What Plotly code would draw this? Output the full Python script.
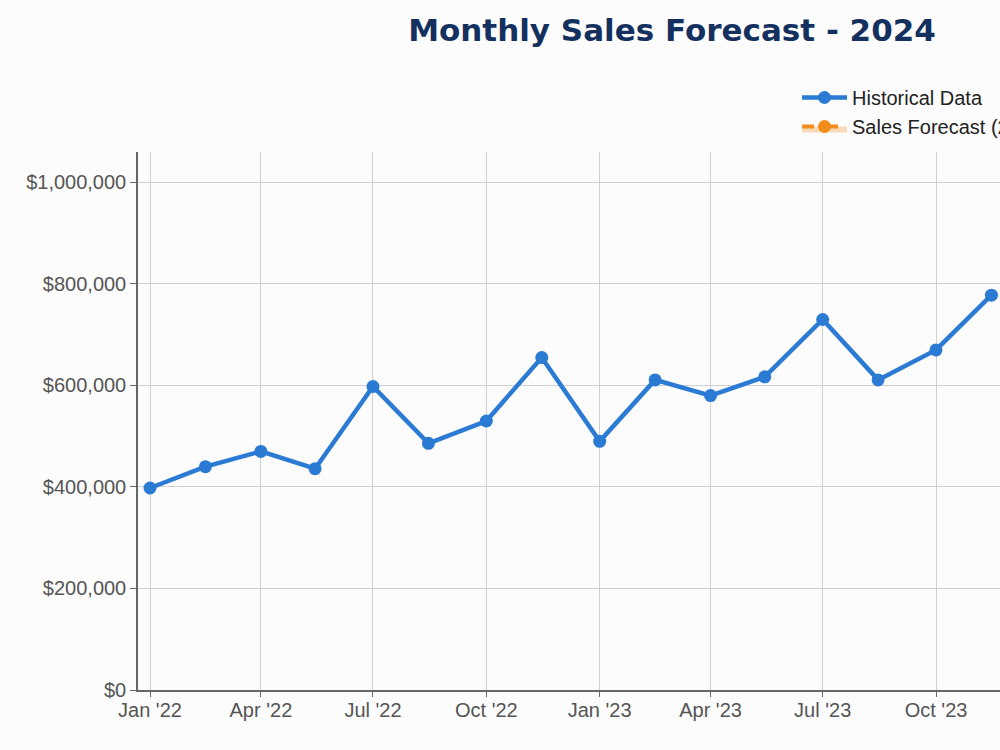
import plotly.graph_objects as go
import pandas as pd

hist_dates = ["2022-01-01", "2022-02-15", "2022-04-01", "2022-05-15", "2022-07-01", "2022-08-15",
              "2022-10-01", "2022-11-15", "2023-01-01", "2023-02-15", "2023-04-01", "2023-05-15",
              "2023-07-01", "2023-08-15", "2023-10-01", "2023-11-15"]
hist_sales = [398000, 440000, 470000, 436000, 598000, 486000, 530000, 655000,
              490000, 611000, 580000, 617000, 730000, 611000, 670000, 778000]

fc_dates = ["2024-01-01", "2024-02-15", "2024-04-01", "2024-05-15", "2024-07-01"]
fc_sales = [720000, 790000, 760000, 800000, 860000]
fc_upper = [780000, 860000, 840000, 890000, 960000]
fc_lower = [660000, 720000, 680000, 710000, 760000]

tick_vals = ["2022-01-01", "2022-04-01", "2022-07-01", "2022-10-01", "2023-01-01", "2023-04-01",
             "2023-07-01", "2023-10-01", "2024-01-01", "2024-04-01", "2024-07-01"]
tick_text = ["Jan '22", "Apr '22", "Jul '22", "Oct '22", "Jan '23", "Apr '23",
             "Jul '23", "Oct '23", "Jan '24", "Apr '24", "Jul '24"]

W, H = 1344, 750
ML, MR, MT, MB = 138, 80, 152, 60
px_per_day = 786 / 638.0
start = pd.Timestamp("2022-01-01") - pd.Timedelta(days=12 / px_per_day)
end = start + pd.Timedelta(days=(W - ML - MR) / px_per_day)

blue = "#2b7bd4"
orange = "#f28c1c"

fig = go.Figure()
fig.add_trace(go.Scatter(x=fc_dates, y=fc_upper, mode="lines", line=dict(width=0),
                         showlegend=False, hoverinfo="skip"))
fig.add_trace(go.Scatter(x=fc_dates, y=fc_sales, mode="lines+markers", name="Sales Forecast (2024)",
                         line=dict(color=orange, width=4, dash="dash"),
                         marker=dict(size=13, color=orange),
                         fill="tonexty", fillcolor="rgba(242,140,28,0.3)"))
fig.add_trace(go.Scatter(x=fc_dates, y=fc_lower, mode="lines", line=dict(width=0),
                         fill="tonexty", fillcolor="rgba(242,140,28,0.3)",
                         showlegend=False, hoverinfo="skip"))
fig.add_trace(go.Scatter(x=hist_dates, y=hist_sales, mode="lines+markers", name="Historical Data",
                         line=dict(color=blue, width=4.5),
                         marker=dict(size=13, color=blue)))

fig.update_layout(
    width=W, height=H, autosize=False,
    margin=dict(l=ML, r=MR, t=MT, b=MB),
    paper_bgcolor="#fcfcfc", plot_bgcolor="#fcfcfc",
    title=dict(text="<b>Monthly Sales Forecast - 2024</b>", x=0.5, xanchor="center",
               y=1 - 30 / 750, yanchor="middle",
               font=dict(family="DejaVu Sans", size=31, color="#13305f")),
    legend=dict(x=(797 - ML) / (W - ML - MR), xanchor="left", y=1 + (152 - 78) / (750 - MT - MB),
                yanchor="top", traceorder="reversed", itemwidth=45,
                font=dict(family="Liberation Sans, Arial", size=20, color="#222"),
                bgcolor="rgba(0,0,0,0)"),
    font=dict(family="Liberation Sans, Arial", size=20, color="#555"),
)
fig.update_xaxes(range=[start, end], tickvals=tick_vals, ticktext=tick_text,
                 showgrid=True, gridcolor="#d0d0d0", gridwidth=1,
                 showline=True, linecolor="#666", linewidth=1.5,
                 ticks="outside", ticklen=5, tickcolor="#666", ticklabelstandoff=-4,
                 tickfont=dict(size=20, color="#555"))
fig.update_yaxes(range=[0, 1060000], tickvals=[0, 200000, 400000, 600000, 800000, 1000000],
                 ticktext=["$0", "$200,000", "$400,000", "$600,000", "$800,000", "$1,000,000"],
                 showgrid=True, gridcolor="#d0d0d0", gridwidth=1, zeroline=False,
                 showline=True, linecolor="#666", linewidth=1.5,
                 ticks="outside", ticklen=6, tickcolor="#666",
                 tickfont=dict(size=20, color="#555"))

fig.write_html("out.html")
